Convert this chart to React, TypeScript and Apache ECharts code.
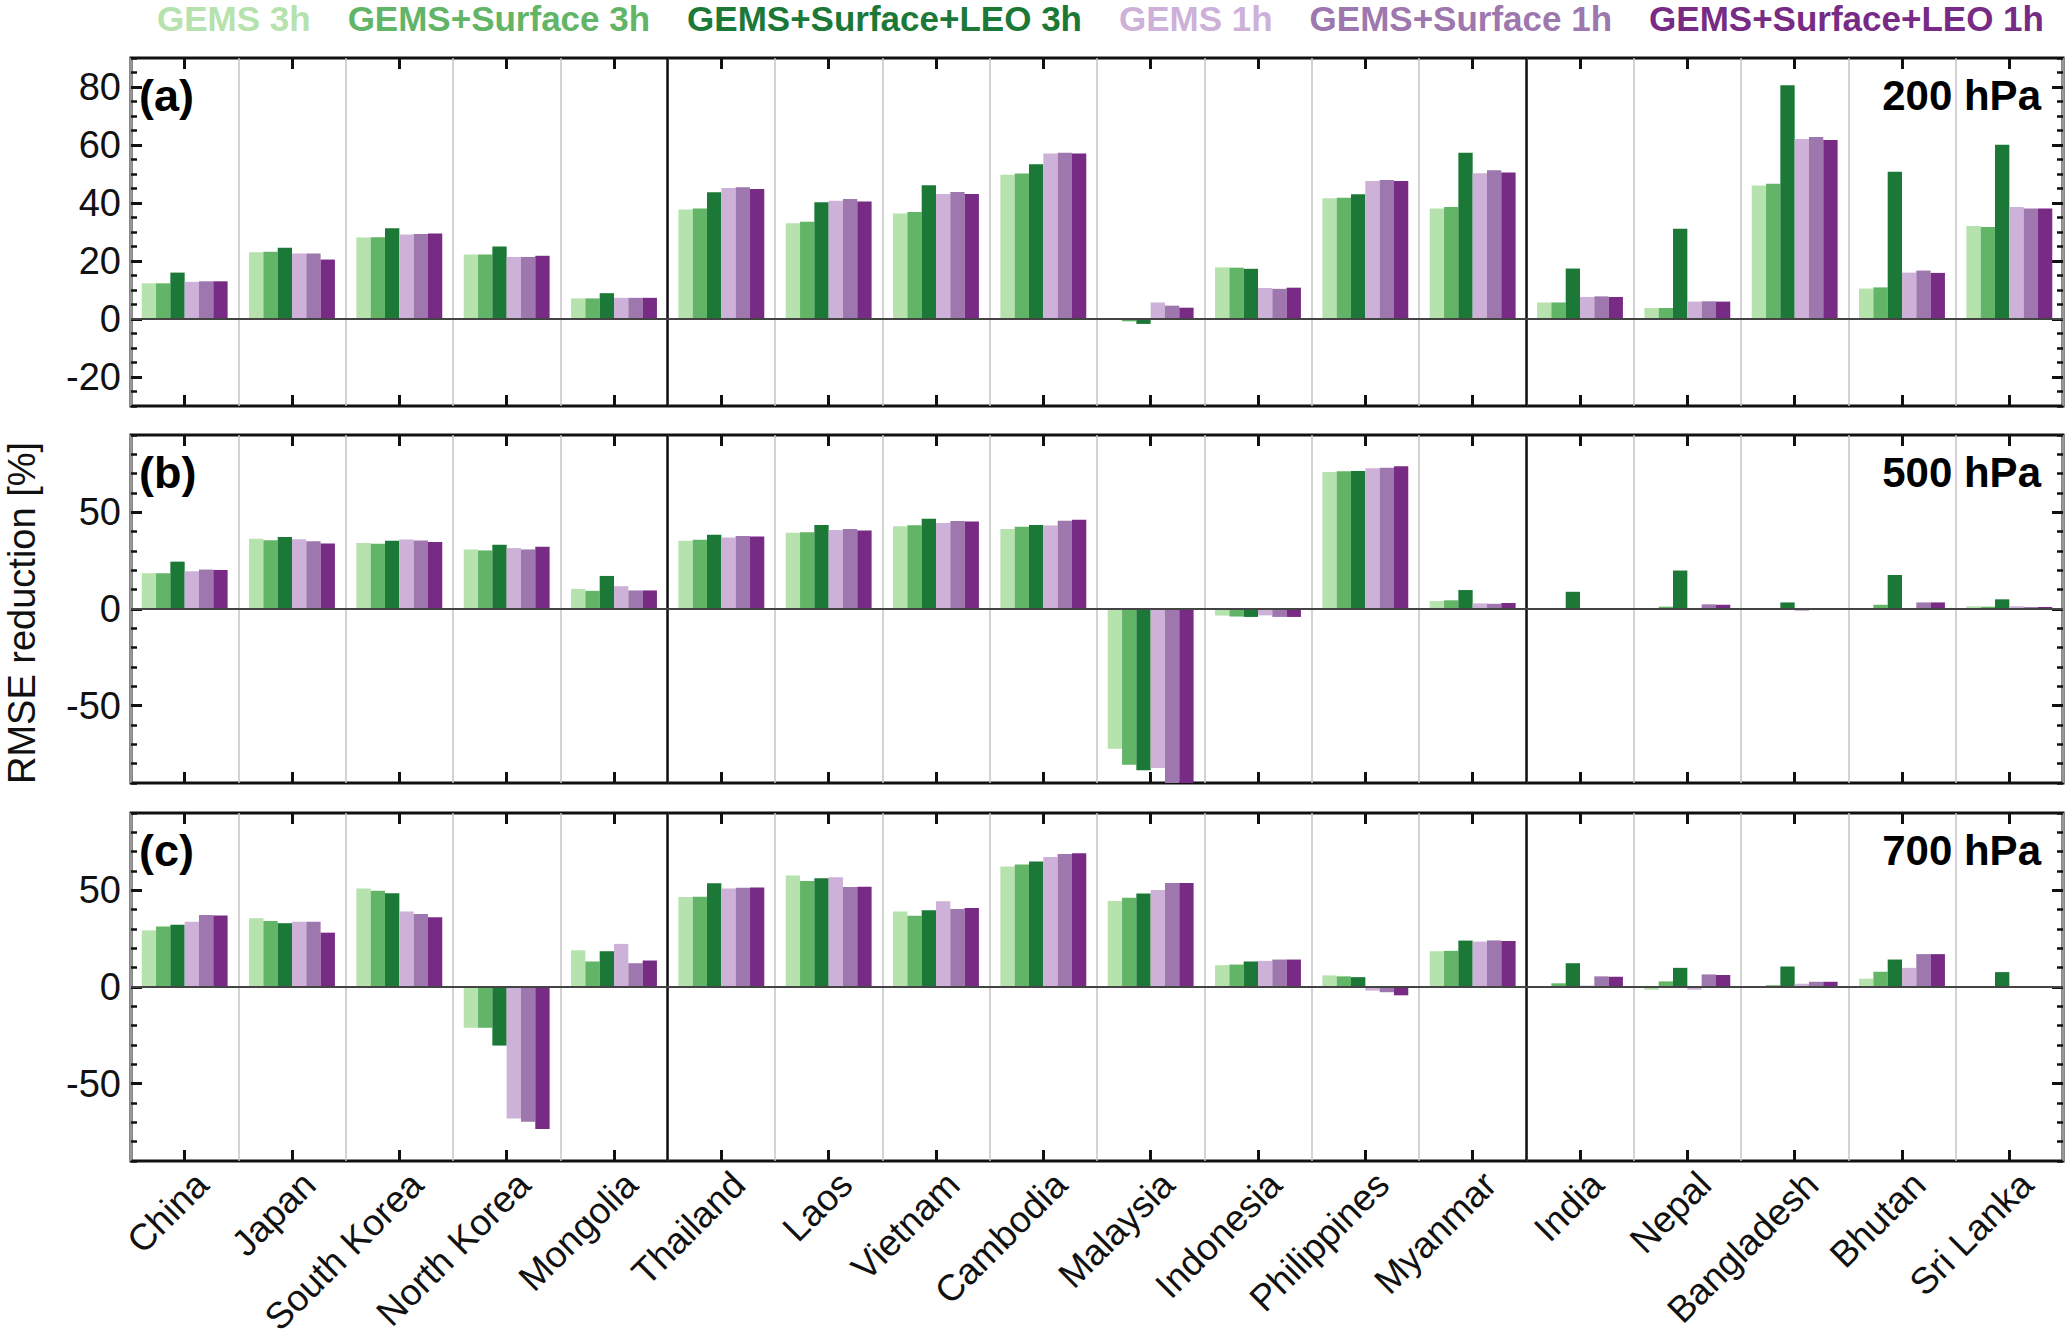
import React, { useEffect, useRef } from "react";
import * as echarts from "echarts";

const countries = [
  "China", "Japan", "South Korea", "North Korea", "Mongolia",
  "Thailand", "Laos", "Vietnam", "Cambodia", "Malaysia", "Indonesia", "Philippines", "Myanmar",
  "India", "Nepal", "Bangladesh", "Bhutan", "Sri Lanka",
];

const experiments = [
  "GEMS 3h", "GEMS+Surface 3h", "GEMS+Surface+LEO 3h",
  "GEMS 1h", "GEMS+Surface 1h", "GEMS+Surface+LEO 1h",
];

const colors = ["#b5e2ad", "#62b467", "#1b7837", "#cdb1d8", "#9d77ad", "#772b84"];

// 200 hPa
const a_gems3h = [12.3, 23.0, 28.1, 22.2, 7.1, 37.8, 33.0, 36.4, 49.7, -0.2, 17.8, 41.6, 38.1, 5.7, 3.8, 46.0, 10.5, 32.1];
const a_surf3h = [12.3, 23.2, 28.2, 22.2, 7.1, 38.1, 33.5, 36.9, 50.2, -0.8, 17.7, 41.8, 38.6, 5.7, 3.8, 46.6, 10.9, 31.7];
const a_leo3h = [16.0, 24.6, 31.3, 25.0, 8.9, 43.7, 40.3, 46.1, 53.4, -1.7, 17.3, 43.0, 57.3, 17.4, 31.1, 80.6, 50.8, 60.1];
const a_gems1h = [12.8, 22.6, 29.1, 21.4, 7.3, 45.2, 40.8, 43.1, 57.1, 5.7, 10.7, 47.6, 50.3, 7.6, 6.0, 62.1, 16.0, 38.6];
const a_surf1h = [13.0, 22.6, 29.3, 21.4, 7.3, 45.4, 41.4, 43.8, 57.3, 4.6, 10.4, 47.9, 51.3, 7.8, 6.1, 62.8, 16.7, 38.1];
const a_leo1h = [13.0, 20.5, 29.5, 21.8, 7.3, 44.8, 40.5, 43.1, 57.1, 3.9, 10.8, 47.6, 50.5, 7.6, 6.0, 61.7, 15.9, 38.1];

// 500 hPa
const b_gems3h = [18.5, 36.3, 34.2, 30.8, 10.4, 35.3, 39.4, 42.8, 41.4, -72.3, -3.4, 70.9, 4.1, 0.2, 0.1, -0.3, 0.2, 1.4];
const b_surf3h = [18.5, 35.6, 33.7, 30.3, 9.4, 35.8, 39.7, 43.3, 42.5, -80.5, -3.9, 71.2, 4.5, 0.2, 1.2, 0.1, 2.2, 1.2];
const b_leo3h = [24.5, 37.3, 35.3, 33.2, 17.1, 38.4, 43.5, 46.7, 43.5, -83.4, -4.1, 71.4, 9.8, 8.9, 19.9, 3.4, 17.6, 5.0];
const b_gems1h = [19.5, 36.1, 36.0, 31.5, 11.8, 37.0, 40.9, 44.5, 43.2, -82.2, -3.3, 72.8, 2.9, 0.1, 0.1, -1.0, 0.1, 1.4];
const b_surf1h = [20.4, 35.1, 35.4, 30.8, 9.6, 37.8, 41.4, 45.5, 45.7, -95.0, -4.1, 73.1, 2.7, 0.4, 2.4, -0.5, 3.4, 1.0];
const b_leo1h = [20.2, 33.9, 34.6, 32.2, 9.6, 37.5, 40.6, 45.2, 46.1, -98.0, -4.1, 73.8, 3.1, 0.4, 2.2, -0.5, 3.4, 1.0];

// 700 hPa
const c_gems3h = [29.3, 35.6, 51.0, -21.1, 19.0, 46.6, 57.7, 39.0, 62.3, 44.5, 11.3, 6.0, 18.5, 0.2, -1.4, 0.2, 4.3, 0.1];
const c_surf3h = [31.3, 34.2, 49.8, -21.1, 13.2, 46.7, 54.8, 36.8, 63.4, 46.2, 11.6, 5.5, 18.7, 1.9, 2.9, 0.9, 7.9, 0.1];
const c_leo3h = [32.2, 33.0, 48.5, -30.3, 18.5, 53.6, 56.2, 39.7, 64.9, 48.3, 13.2, 5.1, 24.0, 12.3, 9.9, 10.6, 14.2, 7.7];
const c_gems1h = [33.7, 33.7, 39.0, -68.0, 22.3, 51.0, 56.8, 44.3, 67.3, 50.2, 13.5, -1.9, 23.5, 0.7, -1.4, 1.7, 9.9, 0.1];
const c_surf1h = [37.3, 33.7, 37.7, -69.7, 12.3, 51.4, 51.7, 40.4, 68.8, 53.8, 14.2, -2.7, 24.1, 5.5, 6.5, 2.7, 17.0, 0.1];
const c_leo1h = [37.0, 28.1, 36.1, -73.5, 13.7, 51.5, 51.9, 40.9, 69.2, 53.8, 14.2, -4.3, 23.8, 5.3, 6.2, 2.7, 17.0, 0.1];

// Axis ticks
const yMajorA = [-20, 0, 20, 40, 60, 80];
const yMajorBC = [-50, 0, 50];
const panelLabels = ["(a)", "(b)", "(c)"];
const levelLabels = ["200 hPa", "500 hPa", "700 hPa"];
const regionBoundaries = [5, 13];

export default function App() {
  const ref = useRef<HTMLDivElement>(null);

  useEffect(() => {
    if (!ref.current) return;
    const chart = echarts.init(ref.current, undefined, { renderer: "svg" });
    const FONT = '"Liberation Sans", Arial, Helvetica, sans-serif';
    const BLACK = "#111111";
    const GRID_LEFT = 131;
    const GRID_RIGHT = 4;
    const H = 348;

    const panels = [
      { top: 58, data: [a_gems3h, a_surf3h, a_leo3h, a_gems1h, a_surf1h, a_leo1h], min: -30, max: 90, majors: yMajorA, minorStep: 5 },
      { top: 435, data: [b_gems3h, b_surf3h, b_leo3h, b_gems1h, b_surf1h, b_leo1h], min: -90, max: 90, majors: yMajorBC, minorStep: 10 },
      { top: 813, data: [c_gems3h, c_surf3h, c_leo3h, c_gems1h, c_surf1h, c_leo1h], min: -90, max: 90, majors: yMajorBC, minorStep: 10 },
    ];

    const grids: any[] = [];
    const xAxes: any[] = [];
    const yAxes: any[] = [];
    const series: any[] = [];
    const graphics: any[] = [];

    const catTick = {
      show: true, inside: true, alignWithLabel: true, interval: 0, length: 11,
      lineStyle: { color: BLACK, width: 3 },
    };
    const majorTick = (vals: number[]) => ({
      show: true, inside: true, length: 11, customValues: vals,
      lineStyle: { color: BLACK, width: 3 },
    });
    const minorTick = {
      show: true, inside: true, length: 6,
      lineStyle: { color: BLACK, width: 2.5 },
    };

    panels.forEach((p, gi) => {
      const last = gi === panels.length - 1;
      grids.push({
        left: GRID_LEFT, right: GRID_RIGHT, top: p.top, height: H,
        show: true, borderColor: BLACK, borderWidth: 3, backgroundColor: "transparent",
        containLabel: false, outerBoundsMode: "none",
      });

      xAxes.push({
        type: "category", gridIndex: gi, position: "bottom", data: countries, boundaryGap: true,
        axisLine: { show: false, onZero: false },
        axisTick: catTick,
        axisLabel: {
          show: last, interval: 0, rotate: 45, fontSize: 37, margin: 0, color: BLACK,
          fontFamily: FONT, verticalAlign: "top", padding: [6, 0, 0, 0],
        },
        splitLine: { show: true, interval: 0, lineStyle: { color: "#c6c6c6", width: 1.5 } },
      });
      xAxes.push({
        type: "category", gridIndex: gi, position: "top", data: countries, boundaryGap: true,
        axisLine: { show: false, onZero: false },
        axisTick: catTick,
        axisLabel: { show: false },
        splitLine: { show: false },
      });
      xAxes.push({
        type: "value", gridIndex: gi, position: "bottom", min: 0, max: countries.length,
        show: false, axisLine: { show: false, onZero: false }, splitLine: { show: false },
      });

      const yBase = {
        type: "value", gridIndex: gi, min: p.min, max: p.max,
        axisLine: { show: false, onZero: false }, splitLine: { show: false },
      };
      yAxes.push({
        ...yBase, position: "left",
        axisTick: majorTick(p.majors),
        axisLabel: {
          show: true, customValues: p.majors, fontSize: 38, margin: 10, color: BLACK, fontFamily: FONT,
        },
      });
      yAxes.push({ ...yBase, position: "left", interval: p.minorStep, axisTick: minorTick, axisLabel: { show: false } });
      yAxes.push({ ...yBase, position: "right", axisTick: majorTick(p.majors), axisLabel: { show: false } });
      yAxes.push({ ...yBase, position: "right", interval: p.minorStep, axisTick: minorTick, axisLabel: { show: false } });

      p.data.forEach((vals, si) => {
        series.push({
          type: "bar", name: experiments[si], xAxisIndex: gi * 3, yAxisIndex: gi * 4,
          data: vals, barGap: "0%", barCategoryGap: "20%", clip: true,
          itemStyle: { color: colors[si] },
        });
      });

      series.push({
        type: "line", xAxisIndex: gi * 3 + 2, yAxisIndex: gi * 4, data: [], silent: true,
        markLine: {
          silent: true, symbol: ["none", "none"], label: { show: false }, animation: false,
          data: [
            ...regionBoundaries.map((b) => ({ xAxis: b, lineStyle: { color: BLACK, width: 2.5, type: "solid" } })),
            { yAxis: 0, lineStyle: { color: "#444444", width: 2, type: "solid" } },
          ],
        },
      });

      graphics.push({
        type: "text", x: 139, y: p.top + 37,
        style: { text: panelLabels[gi], fontSize: 45, fontWeight: "bold", fontFamily: FONT, fill: "#000", align: "left", verticalAlign: "middle" },
      });
      graphics.push({
        type: "text", x: 2041, y: p.top + 37,
        style: { text: levelLabels[gi], fontSize: 42, fontWeight: "bold", fontFamily: FONT, fill: "#000", align: "right", verticalAlign: "middle" },
      });
    });

    graphics.push({
      type: "text", x: 22, y: 613, rotation: Math.PI / 2,
      style: { text: "RMSE reduction [%]", fontSize: 38, fontFamily: FONT, fill: BLACK, align: "center", verticalAlign: "middle" },
    });

    chart.setOption({
      animation: false,
      backgroundColor: "#ffffff",
      textStyle: { fontFamily: FONT },
      legend: {
        left: 152, top: 1, padding: 0, itemGap: 32, itemWidth: 0, itemHeight: 0,
        icon: "rect", selectedMode: false,
        textStyle: { fontSize: 35, fontWeight: "bold", fontFamily: FONT },
        data: experiments.map((n, i) => ({ name: n, textStyle: { color: colors[i] } })),
      },
      grid: grids,
      xAxis: xAxes,
      yAxis: yAxes,
      series,
      graphic: graphics,
    });

    return () => chart.dispose();
  }, []);

  return (
    <div
      ref={ref}
      style={{ position: "fixed", left: 0, top: 0, width: 2067, height: 1343, background: "#fff" }}
    />
  );
}
